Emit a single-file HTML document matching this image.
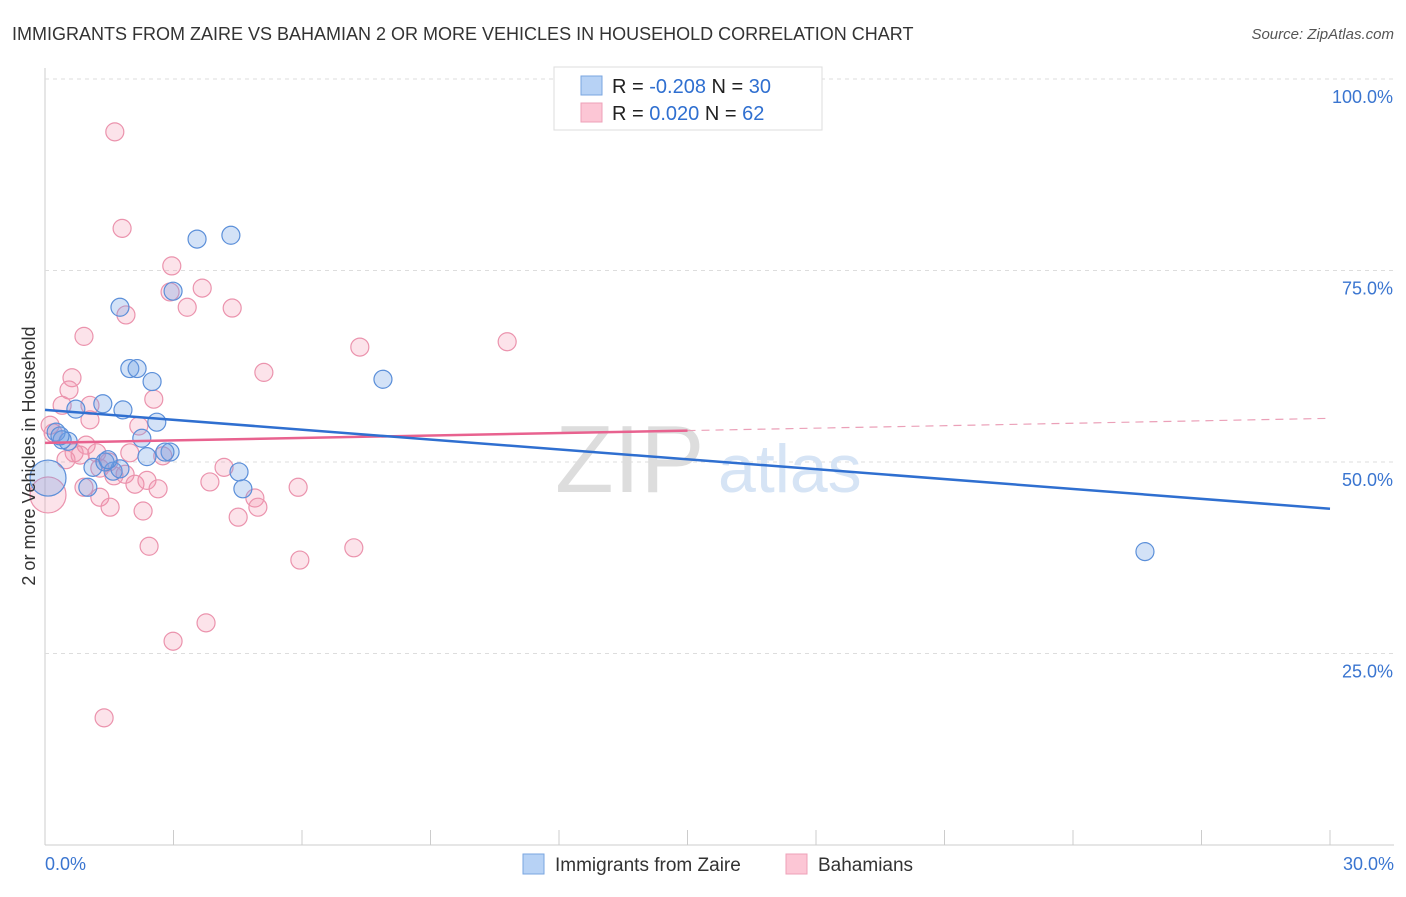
<!DOCTYPE html>
<html><head><meta charset="utf-8"><style>
body{margin:0;background:#fff;font-family:"Liberation Sans",sans-serif;}
svg text{font-family:"Liberation Sans",sans-serif;}
</style></head><body>
<svg width="1406" height="892">
<text x="12" y="40" font-size="18" fill="#333">IMMIGRANTS FROM ZAIRE VS BAHAMIAN 2 OR MORE VEHICLES IN HOUSEHOLD CORRELATION CHART</text>
<text x="1394" y="39" font-size="15" fill="#555" font-style="italic" text-anchor="end">Source: ZipAtlas.com</text>
<g id="grid"></g>
<text x="555" y="492" font-size="96" fill="#ddd" font-family="Liberation Serif">ZIP</text>
<text x="718" y="492" font-size="68" fill="#d6e4f5">atlas</text>
<g id="marks"></g>
<text x="35" y="456" font-size="18" fill="#333" transform="rotate(-90 35 456)" text-anchor="middle">2 or more Vehicles in Household</text>
<g>
<rect x="554" y="67" width="268" height="63" fill="#fff" stroke="#ddd"/>
<rect x="581" y="76" width="21" height="19" fill="#b7d2f5" stroke="#7aa6e0"/>
<rect x="581" y="103" width="21" height="19" fill="#fcc6d5" stroke="#eea0b8"/>
<text x="612" y="93" font-size="20" fill="#222">R = <tspan fill="#2f6fd0">-0.208</tspan>   N = <tspan fill="#2f6fd0">30</tspan></text>
<text x="612" y="120" font-size="20" fill="#222">R =  <tspan fill="#2f6fd0">0.020</tspan>   N = <tspan fill="#2f6fd0">62</tspan></text>
</g>
<g>
<rect x="523" y="854" width="21" height="20" fill="#b7d2f5" stroke="#7aa6e0"/>
<text x="555" y="871" font-size="19" fill="#333">Immigrants from Zaire</text>
<rect x="786" y="854" width="21" height="20" fill="#fcc6d5" stroke="#eea0b8"/>
<text x="818" y="871" font-size="19" fill="#333">Bahamians</text>
</g>
</svg>
<script>
const yTicks=[25,50,75,100];
const yTickLabels=["25.0%","50.0%","75.0%","100.0%"];
const xTickVals=[0,3,6,9,12,15,18,21,24,27,30];
const zaireX=[3.55,4.34,1.75,2.99,1.98,2.15,2.50,7.89,0.72,1.35,1.82,2.61,2.26,0.54,0.26,2.92,2.38,1.12,1.59,1.75,1.40,4.53,1.00,4.62,25.68,0.07,0.40,1.47,2.80,0.35];
const zaireY=[79.1,79.6,70.2,72.3,62.2,62.2,60.5,60.8,56.9,57.6,56.8,55.2,53.1,52.7,53.9,51.3,50.7,49.3,48.8,49.1,50.0,48.7,46.7,46.5,38.3,47.9,52.9,50.3,51.3,53.4];
const zaireR=[9,9,9,9,9,9,9,9,9,9,9,9,9,9,9,9,9,9,9,9,9,9,9,9,9,18,9,9,9,9];
const bahX=[1.63,1.80,2.96,2.92,3.67,1.89,3.32,4.37,0.91,7.35,10.79,5.11,0.63,0.56,2.54,1.05,0.40,2.19,0.12,0.19,0.96,0.68,0.49,0.82,1.21,1.98,2.75,1.49,4.18,1.28,1.87,1.61,2.10,2.38,0.91,2.64,3.85,5.91,1.28,4.90,1.52,2.29,4.97,4.51,2.43,7.21,5.95,3.76,2.99,1.38,0.07,1.05];
const bahY=[93.1,80.5,75.6,72.2,72.7,69.2,70.2,70.1,66.4,65.0,65.7,61.7,61.0,59.4,58.2,57.4,57.4,54.7,54.8,53.8,52.2,51.2,50.3,50.9,51.2,51.2,50.8,50.0,49.3,49.2,48.4,48.2,47.1,47.6,46.7,46.5,47.4,46.7,45.4,45.3,44.1,43.6,44.1,42.8,39.0,38.8,37.2,29.0,26.6,16.6,45.7,55.5];
const zaireTrend=[56.8,43.9];
const bahTrend=[52.5,55.7];
const bahSolidEnd=15;
const NS="http://www.w3.org/2000/svg";
const X0=45,X1=1330,Y0=845,Y100=79;
const xs=v=>X0+(X1-X0)*v/30, ys=v=>Y0-(Y0-Y100)*v/100;
function mk(p,t,a,n){const e=document.createElementNS(NS,t);for(const k in a)e.setAttribute(k,a[k]);p.appendChild(e);return e;}
const grid=document.getElementById('grid'),marks=document.getElementById('marks');
let ax=mk(grid,'line',{x1:X0,y1:68,x2:X0,y2:Y0,stroke:'#ccc'});


let bx=mk(grid,'line',{x1:X0,y1:Y0,x2:1394,y2:Y0,stroke:'#ccc'});


yTicks.forEach((t,i)=>{
 let g=mk(grid,'line',{x1:X0,y1:ys(t),x2:1394,y2:ys(t),stroke:'#ddd','stroke-dasharray':'4 4'});
 
 
 let l=mk(grid,'text',{x:1393,y:ys(t)+24,'font-size':18,fill:'#3a75d0','text-anchor':'end'});l.textContent=yTickLabels[i];
 
 
});
xTickVals.forEach(t=>{let k=mk(grid,'line',{x1:xs(t),y1:830,x2:xs(t),y2:Y0,stroke:'#ccc'});
 
 });
[["0.0%",45,'start'],["30.0%",1394,'end']].forEach(a=>{let l=mk(grid,'text',{x:a[1],y:870,'font-size':18,fill:'#3a75d0','text-anchor':a[2]});l.textContent=a[0];
 
 });
bahX.forEach((x,i)=>{let c=mk(marks,'circle',{cx:xs(x),cy:ys(bahY[i]),r:i==50?18:9,fill:'rgba(244,143,172,0.25)',stroke:'#eb93ad','stroke-width':1.2});
 
 });
zaireX.forEach((x,i)=>{let c=mk(marks,'circle',{cx:xs(x),cy:ys(zaireY[i]),r:zaireR[i],fill:'rgba(110,160,230,0.3)',stroke:'#5b8fd9','stroke-width':1.2});
 
 });
const by=x=>bahTrend[0]+(bahTrend[1]-bahTrend[0])*x/30;
let p1=mk(marks,'line',{x1:xs(0),y1:ys(by(0)),x2:xs(bahSolidEnd),y2:ys(by(bahSolidEnd)),stroke:'#e8628f','stroke-width':2.5});


let p2=mk(marks,'line',{x1:xs(bahSolidEnd),y1:ys(by(bahSolidEnd)),x2:xs(30),y2:ys(by(30)),stroke:'#eba0b8','stroke-width':1.2,'stroke-dasharray':'8 6'});


let zl=mk(marks,'line',{x1:xs(0),y1:ys(zaireTrend[0]),x2:xs(30),y2:ys(zaireTrend[1]),stroke:'#2f6fd0','stroke-width':2.5});


</script>
</body></html>
